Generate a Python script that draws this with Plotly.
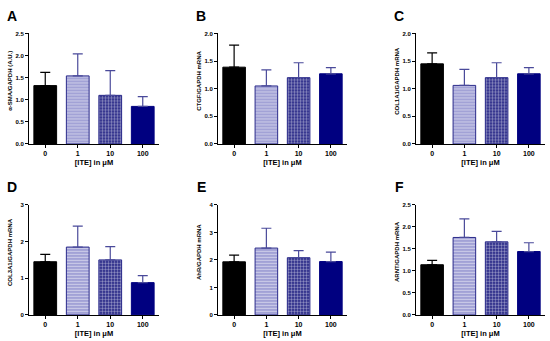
import plotly.graph_objects as go

W, H = 550, 341

categories = ["0", "1", "10", "100"]

panel_letters = ["A", "B", "C", "D", "E", "F"]
y_titles = ["α-SMA/GAPDH (A.U.)", "CTGF/GAPDH mRNA", "COL1A1/GAPDH mRNA",
            "COL3A1/GAPDH mRNA", "AhR/GAPDH mRNA", "ARNT/GAPDH mRNA"]
x_title = "[ITE] in μM"

means_A = [1.32, 1.54, 1.10, 0.85]
sd_A = [0.30, 0.50, 0.56, 0.22]
means_B = [1.39, 1.05, 1.20, 1.27]
sd_B = [0.40, 0.29, 0.27, 0.11]
means_C = [1.45, 1.06, 1.20, 1.27]
sd_C = [0.20, 0.29, 0.27, 0.11]
means_D = [1.45, 1.85, 1.50, 0.88]
sd_D = [0.20, 0.57, 0.36, 0.19]
means_E = [1.93, 2.43, 2.08, 1.94]
sd_E = [0.24, 0.72, 0.26, 0.34]
means_F = [1.14, 1.76, 1.66, 1.44]
sd_F = [0.10, 0.42, 0.24, 0.20]

y_max = [2.5, 2.0, 2.0, 3, 4, 2.5]
y_step = [0.5, 0.5, 0.5, 1, 1, 0.5]
y_fmt = [".1f", ".1f", ".1f", "d", "d", ".1f"]

all_means = [means_A, means_B, means_C, means_D, means_E, means_F]
all_sd = [sd_A, sd_B, sd_C, sd_D, sd_E, sd_F]

# layout in pixels
col_x = [(29, 159), (218, 347), (416, 545)]
row_y = [(31, 143.5), (205.5, 317.5)]

NAVY = "#000080"
EDGE = "#2a2a8a"
FONT = "Liberation Sans"


def px_x(x):
    return x / W


def px_y(y):
    return 1 - y / H


bar_styles = [
    dict(color="#000000", line=dict(color="#000000", width=1)),
    dict(color="#a9a9d9", line=dict(color=EDGE, width=1),
         pattern=dict(shape="-", bgcolor="#a2a2d6", fgcolor="#ffffff", size=3, solidity=0.3)),
    dict(color=NAVY, line=dict(color=EDGE, width=1),
         pattern=dict(shape=".", bgcolor="#1c1c80", fgcolor="#ffffff", size=3, solidity=0.5)),
    dict(color=NAVY, line=dict(color=NAVY, width=1)),
]
err_colors = ["#000000", "#4a4a9a", "#4a4a9a", "#4a4a9a"]

fig = go.Figure()
annotations = []

for p in range(6):
    r, c = divmod(p, 3)
    xs = "" if p == 0 else str(p + 1)
    x0, x1 = col_x[c]
    y0, y1 = row_y[r]
    for i, cat in enumerate(categories):
        fig.add_trace(go.Bar(
            x=[cat], y=[all_means[p][i]], width=0.7,
            marker=bar_styles[i],
            error_y=dict(type="data", symmetric=False, array=[all_sd[p][i]], arrayminus=[0],
                         color=err_colors[i], thickness=1.2, width=5),
            xaxis="x" + xs, yaxis="y" + xs, showlegend=False,
        ))
    tickvals = []
    v = 0.0
    while v <= y_max[p] + 1e-9:
        tickvals.append(round(v, 3))
        v += y_step[p]
    fig.update_layout(**{
        "xaxis" + xs: dict(
            domain=[px_x(x0), px_x(x1)], anchor="y" + xs, type="category",
            categoryorder="array", categoryarray=categories, range=[-0.5, 3.5],
            showline=True, linecolor="#000000", linewidth=1, ticks="outside",
            ticklen=3, tickcolor="#000000", showgrid=False, zeroline=False,
            tickfont=dict(family=FONT, size=7, color="#000000", weight="bold"),
            title=dict(text=x_title, standoff=3,
                       font=dict(family=FONT, size=7.5, color="#000000", weight="bold")),
        ),
        "yaxis" + xs: dict(
            domain=[px_y(y1), px_y(y0)], anchor="x" + xs, range=[0, y_max[p]],
            tickvals=tickvals, tickformat=y_fmt[p],
            showline=True, linecolor="#000000", linewidth=1, ticks="outside",
            ticklen=3, tickcolor="#000000", showgrid=False, zeroline=False,
            tickfont=dict(family=FONT, size=6, color="#000000", weight="bold"),
        ),
    })
    # y title
    annotations.append(dict(
        text=y_titles[p], textangle=-90, showarrow=False,
        x=px_x(x0 - 19), y=px_y((y0 + y1) / 2 - 8), xref="paper", yref="paper",
        xanchor="center", yanchor="middle",
        font=dict(family=FONT, size=6, color="#000000", weight="bold"),
    ))
    # panel letter
    annotations.append(dict(
        text=panel_letters[p], showarrow=False,
        x=px_x(x0 - 17), y=px_y(y0 - 18), xref="paper", yref="paper",
        xanchor="center", yanchor="middle",
        font=dict(family=FONT, size=14, color="#000000", weight="bold"),
    ))

fig.update_layout(
    width=W, height=H, autosize=False,
    margin=dict(l=0, r=0, t=0, b=0),
    paper_bgcolor="#ffffff", plot_bgcolor="#ffffff",
    barmode="overlay", annotations=annotations, hovermode=False,
)

fig.write_html("out.html", config={"displayModeBar": False},
               post_script="document.body.style.margin='0';document.body.style.overflow='hidden';")
